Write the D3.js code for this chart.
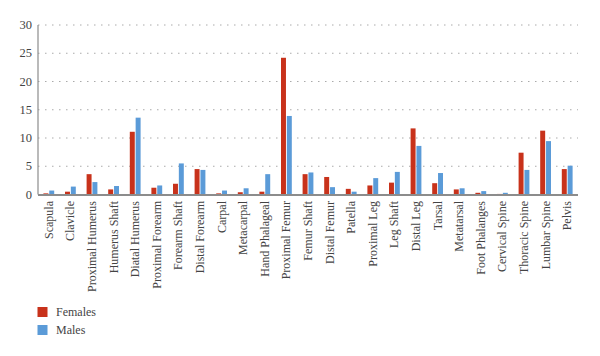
<!DOCTYPE html>
<html>
<head>
<meta charset="utf-8">
<script src="https://cdn.jsdelivr.net/npm/d3@7"></script>
<style>
  html, body { margin: 0; padding: 0; background: #fff; }
  svg { display: block; }
</style>
</head>
<body>
<svg id="chart" width="600" height="356"></svg>
<script>
const categories = ["Scapula","Clavicle","Proximal Humerus","Humerus Shaft","Diatal Humerus","Proximal Forearm","Forearm Shaft","Distal Forearm","Carpal","Metacarpal","Hand Phalageal","Proximal Femur","Femur Shaft","Distal Femur","Patella","Proximal Leg","Leg Shaft","Distal Leg","Tarsal","Metatarsal","Foot Phalanges","Cervical Spine","Thoracic Spine","Lumbar Spine","Pelvis"];
const females = [0.2,0.5,3.6,0.9,11.1,1.2,1.9,4.5,0.2,0.4,0.5,24.2,3.6,3.1,1.0,1.6,2.1,11.7,2.0,0.9,0.3,0.1,7.4,11.3,4.5];
const males   = [0.7,1.4,2.2,1.5,13.6,1.6,5.5,4.35,0.7,1.1,3.6,13.9,3.9,1.3,0.5,2.9,4.0,8.6,3.8,1.1,0.6,0.3,4.35,9.45,5.1];
const seriesNames = ["Females","Males"];
const colors = ["#C8321B","#5B9BD8"];
const yTicks = [0,5,10,15,20,25,30];

(function () {
const FONT = '"Liberation Serif", "Times New Roman", Tinos, "DejaVu Serif"';
const svg = d3.select("#chart");
const mLeft = 38, mRight = 578, mTop = 25, mBottom = 194.5;

const x = d3.scaleBand().domain(categories).range([mLeft, mRight]).paddingInner(0.5).paddingOuter(0.25);
const xs = d3.scaleBand().domain(seriesNames).range([0, x.bandwidth()]).paddingInner(0.15);
const y = d3.scaleLinear().domain([0,30]).range([mBottom, mTop]);

// gridlines
svg.append("g").selectAll("line").data(yTicks.filter(d => d > 0)).join("line")
  .attr("x1", mLeft).attr("x2", mRight)
  .attr("y1", d => y(d)).attr("y2", d => y(d))
  .attr("stroke", "#aaa").attr("stroke-width", 1)
  .attr("stroke-dasharray", "1.5,5.5");

// y tick labels
svg.append("g").selectAll("text").data(yTicks).join("text")
  .attr("x", 32).attr("y", d => y(d) + 4)
  .attr("text-anchor", "end")
  .attr("fill", "#444")
  .style("font-family", FONT)
  .style("font-size", "12.5px")
  .text(d => d);

// bars
const groups = svg.append("g").selectAll("g").data(categories).join("g")
  .attr("transform", d => `translate(${x(d)},0)`);
groups.selectAll("rect")
  .data((d, i) => [{s: "Females", v: females[i]}, {s: "Males", v: males[i]}])
  .join("rect")
  .attr("x", d => xs(d.s))
  .attr("width", xs.bandwidth())
  .attr("y", d => y(d.v))
  .attr("height", d => mBottom - y(d.v))
  .attr("fill", d => colors[seriesNames.indexOf(d.s)]);

// y axis line
svg.append("line").attr("x1", mLeft).attr("x2", mLeft).attr("y1", mTop).attr("y2", mBottom)
  .attr("stroke", "#8c8c8c").attr("stroke-width", 1.2);
// x axis line
svg.append("line").attr("x1", mLeft).attr("x2", mRight).attr("y1", mBottom + 0.5).attr("y2", mBottom + 0.5)
  .attr("stroke", "#8c8c8c").attr("stroke-width", 2);

// x labels
svg.append("g").selectAll("text").data(categories).join("text")
  .attr("transform", d => `translate(${x(d) + x.bandwidth()/2 + 4},201) rotate(-90)`)
  .attr("text-anchor", "end")
  .attr("fill", "#444")
  .style("font-family", FONT)
  .style("font-size", "12px")
  .text(d => d);

// legend
const leg = svg.append("g").selectAll("g").data(seriesNames).join("g")
  .attr("transform", (d, i) => `translate(37.5,${307 + i * 18})`);
leg.append("rect").attr("width", 10).attr("height", 10).attr("fill", (d, i) => colors[i]);
leg.append("text").attr("x", 18.5).attr("y", 9)
  .attr("fill", "#444")
  .style("font-family", FONT)
  .style("font-size", "12px").text(d => d);
})();
</script>
</body>
</html>
